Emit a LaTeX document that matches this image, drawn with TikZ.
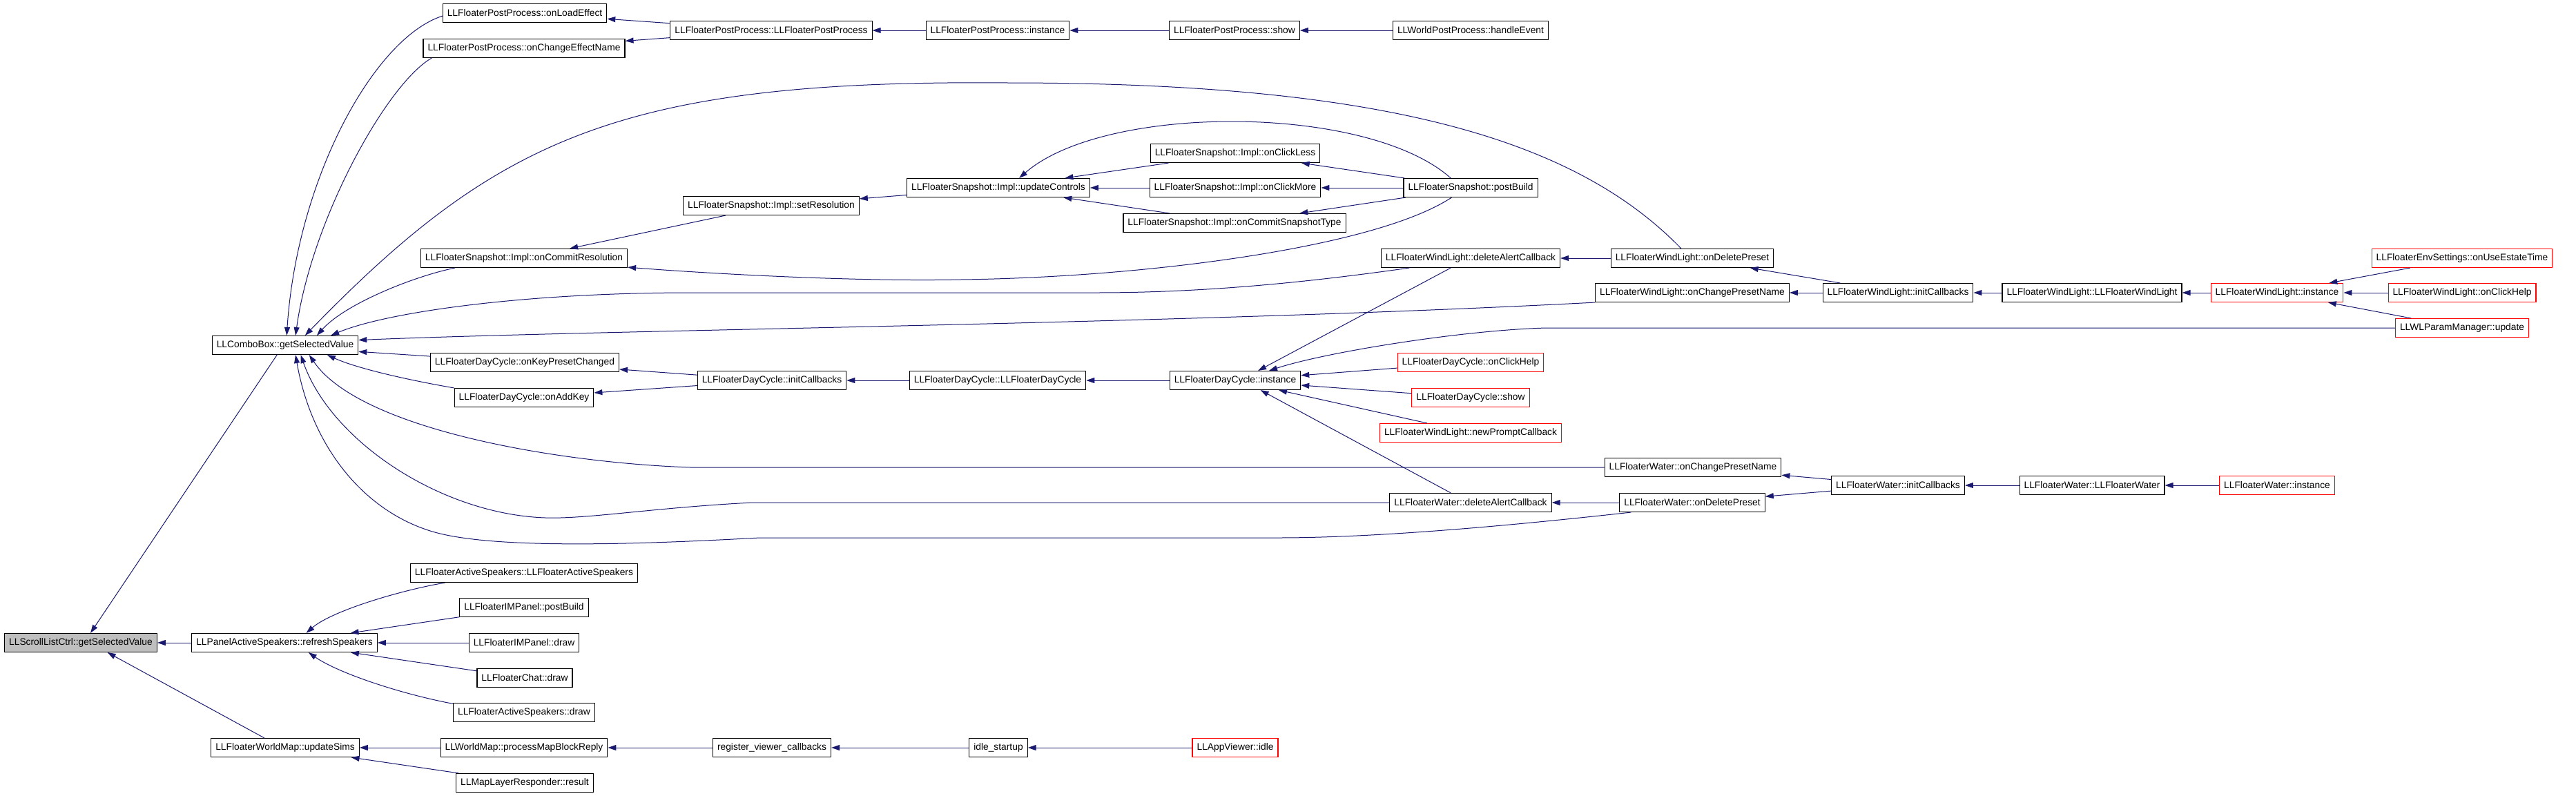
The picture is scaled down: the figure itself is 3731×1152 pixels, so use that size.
\documentclass[tikz,border=0pt]{standalone}
\usepackage{fontspec}
\setmainfont{Liberation Sans}
\usepackage{tikz}
\usetikzlibrary{arrows.meta}
\definecolor{edgeblue}{HTML}{191970}
\definecolor{selgray}{HTML}{BFBFBF}

\begin{document}
\begin{tikzpicture}[x=1pt, y=-1pt,
    fn/.style={draw=black, line width=1.1pt, fill=white, minimum height=27pt,
      inner xsep=6.5pt, inner ysep=0pt, font=\fontsize{13.8}{16}\selectfont},
    fnred/.style={fn, draw=red},
    fnsel/.style={fn, fill=selgray},
    calls/.style={draw=edgeblue, line width=1pt,
      -{Triangle[length=12pt,width=8pt]}}]
    \useasboundingbox (0,0) rectangle (3731,1152);

    % ROOT and first callers
    \node[fnsel] (scroll) at (117,931) {LLScrollListCtrl::getSelectedValue};
    \node[fn] (combo) at (413,500) {LLComboBox::getSelectedValue};
    \node[fn] (spk_ref) at (412,931) {LLPanelActiveSpeakers::refreshSpeakers};
    \node[fn] (map_sims) at (413,1083) {LLFloaterWorldMap::updateSims};

    % POST PROCESS
    \node[fn] (pp_load) at (760,19) {LLFloaterPostProcess::onLoadEffect};
    \node[fn] (pp_name) at (759,70) {LLFloaterPostProcess::onChangeEffectName};
    \node[fn] (pp_ctor) at (1117,44) {LLFloaterPostProcess::LLFloaterPostProcess};
    \node[fn] (pp_inst) at (1445,44) {LLFloaterPostProcess::instance};
    \node[fn] (pp_show) at (1788,44) {LLFloaterPostProcess::show};
    \node[fn] (wpp_evt) at (2130,44) {LLWorldPostProcess::handleEvent};

    % SNAPSHOT
    \node[fn] (ss_res) at (759,374) {LLFloaterSnapshot::Impl::onCommitResolution};
    \node[fn] (ss_setres) at (1117,298) {LLFloaterSnapshot::Impl::setResolution};
    \node[fn] (ss_upd) at (1446,272) {LLFloaterSnapshot::Impl::updateControls};
    \node[fn] (ss_less) at (1789,222) {LLFloaterSnapshot::Impl::onClickLess};
    \node[fn] (ss_more) at (1789,272) {LLFloaterSnapshot::Impl::onClickMore};
    \node[fn] (ss_type) at (1788,323) {LLFloaterSnapshot::Impl::onCommitSnapshotType};
    \node[fn] (ss_build) at (2130,272) {LLFloaterSnapshot::postBuild};

    % WINDLIGHT
    \node[fn] (wl_alert) at (2130,374) {LLFloaterWindLight::deleteAlertCallback};
    \node[fn] (wl_del) at (2451,374) {LLFloaterWindLight::onDeletePreset};
    \node[fn] (wl_name) at (2451,424) {LLFloaterWindLight::onChangePresetName};
    \node[fn] (wl_init) at (2749,424) {LLFloaterWindLight::initCallbacks};
    \node[fn] (wl_ctor) at (3030,424) {LLFloaterWindLight::LLFloaterWindLight};
    \node[fnred] (wl_inst) at (3298,424) {LLFloaterWindLight::instance};
    \node[fnred] (env_time) at (3566,374) {LLFloaterEnvSettings::onUseEstateTime};
    \node[fnred] (wl_help) at (3566,424) {LLFloaterWindLight::onClickHelp};
    \node[fnred] (wlp_upd) at (3566,475) {LLWLParamManager::update};

    % DAY CYCLE
    \node[fn] (dc_key) at (760,525) {LLFloaterDayCycle::onKeyPresetChanged};
    \node[fn] (dc_add) at (759,576) {LLFloaterDayCycle::onAddKey};
    \node[fn] (dc_init) at (1118,551) {LLFloaterDayCycle::initCallbacks};
    \node[fn] (dc_ctor) at (1445,551) {LLFloaterDayCycle::LLFloaterDayCycle};
    \node[fn] (dc_inst) at (1789,551) {LLFloaterDayCycle::instance};
    \node[fnred] (dc_help) at (2130,525) {LLFloaterDayCycle::onClickHelp};
    \node[fnred] (dc_show) at (2130,576) {LLFloaterDayCycle::show};
    \node[fnred] (wl_prompt) at (2130,627) {LLFloaterWindLight::newPromptCallback};

    % WATER
    \node[fn] (wt_name) at (2452,677) {LLFloaterWater::onChangePresetName};
    \node[fn] (wt_alert) at (2130,728) {LLFloaterWater::deleteAlertCallback};
    \node[fn] (wt_del) at (2451,728) {LLFloaterWater::onDeletePreset};
    \node[fn] (wt_init) at (2749,703) {LLFloaterWater::initCallbacks};
    \node[fn] (wt_ctor) at (3030,703) {LLFloaterWater::LLFloaterWater};
    \node[fnred] (wt_inst) at (3298,703) {LLFloaterWater::instance};

    % SPEAKERS and WORLD MAP
    \node[fn] (spk_ctor) at (759,830) {LLFloaterActiveSpeakers::LLFloaterActiveSpeakers};
    \node[fn] (im_build) at (759,880) {LLFloaterIMPanel::postBuild};
    \node[fn] (im_draw) at (759,931) {LLFloaterIMPanel::draw};
    \node[fn] (chat_draw) at (760,982) {LLFloaterChat::draw};
    \node[fn] (spk_draw) at (759,1032) {LLFloaterActiveSpeakers::draw};
    \node[fn] (map_reply) at (759,1083) {LLWorldMap::processMapBlockReply};
    \node[fn] (map_result) at (760,1134) {LLMapLayerResponder::result};
    \node[fn] (reg_cb) at (1118,1083) {register\_viewer\_callbacks};
    \node[fn] (idle_st) at (1446,1083) {idle\_startup};
    \node[fnred] (app_idle) at (1789,1083) {LLAppViewer::idle};

    % calls into the root
    \draw[calls] (combo.-130) -- (scroll.45);
    \draw[calls] (spk_ref) -- (scroll);
    \draw[calls] (map_sims.155) -- (scroll.-20);

    % calls into the combo box
    \draw[calls] (pp_load.182) .. controls +(-99,32) and +(15,-227) .. (combo.81);
    \draw[calls] (pp_name.186) .. controls +(-65,37) and +(23,-167) .. (combo.43);
    \draw[calls] (wl_del.139) .. controls (2280,200) and (2000,120) .. (1460,120)
        .. controls (900,115) and (720,200) .. (combo.26);
    \draw[calls] (ss_res.188) .. controls (600,400) and (500,440) .. (combo.17);
    \draw[calls] (wl_alert.189) .. controls (1900,408) and (1750,424) .. (1586,424)
        -- (1000,424) .. controls (760,424) and (560,452) .. (combo.12);
    \draw[calls] (wl_name.south west) .. controls (1700,470) and (900,477) .. (combo.4);
    \draw[calls] (dc_key) -- (combo.-5);
    \draw[calls] (dc_add.north west) .. controls (600,552) and (520,535) .. (combo.-13);
    \draw[calls] (wt_name.west) -- (1000,677) .. controls (800,670) and (520,620) .. (combo.-22);
    \draw[calls] (wt_alert.west) -- (1090,728) .. controls (950,735) and (850,752) .. (790,750)
        .. controls (640,745) and (480,640) .. (combo.-32);
    \draw[calls] (wt_del.189) .. controls (2200,760) and (2000,779) .. (1850,779)
        -- (1100,779) .. controls (900,790) and (700,795) .. (620,768)
        .. controls (520,735) and (450,640) .. (combo.-43);

    % post process chain
    \draw[calls] (pp_ctor) -- (pp_load);
    \draw[calls] (pp_ctor) -- (pp_name);
    \draw[calls] (pp_inst) -- (pp_ctor);
    \draw[calls] (pp_show) -- (pp_inst);
    \draw[calls] (wpp_evt) -- (pp_show);

    % snapshot chain
    \draw[calls] (ss_setres) -- (ss_res);
    \draw[calls] (ss_upd) -- (ss_setres);
    \draw[calls] (ss_less) -- (ss_upd);
    \draw[calls] (ss_more) -- (ss_upd);
    \draw[calls] (ss_type) -- (ss_upd);
    \draw[calls] (ss_build) -- (ss_less);
    \draw[calls] (ss_build) -- (ss_more);
    \draw[calls] (ss_build) -- (ss_type);
    \draw[calls] (ss_build.154) .. controls (1980,150) and (1600,150) .. (ss_upd.25);
    \draw[calls] (ss_build.207) .. controls (1990,360) and (1650,402) .. (1391,405)
        .. controls (1250,408) and (1050,398) .. (ss_res.-5);

    % windlight chain
    \draw[calls] (wl_del) -- (wl_alert);
    \draw[calls] (wl_init) -- (wl_del);
    \draw[calls] (wl_init) -- (wl_name);
    \draw[calls] (wl_ctor) -- (wl_init);
    \draw[calls] (wl_inst) -- (wl_ctor);
    \draw[calls] (env_time) -- (wl_inst);
    \draw[calls] (wl_help) -- (wl_inst);
    \draw[calls] (wlp_upd) -- (wl_inst);

    % day cycle chain
    \draw[calls] (dc_init) -- (dc_key);
    \draw[calls] (dc_init) -- (dc_add);
    \draw[calls] (dc_ctor) -- (dc_init);
    \draw[calls] (dc_inst) -- (dc_ctor);
    \draw[calls] (wl_alert.206) -- (dc_inst.23);
    \draw[calls] (wlp_upd.west) -- (2240,475) .. controls (2120,478) and (1920,510) .. (dc_inst.16);
    \draw[calls] (dc_help) -- (dc_inst);
    \draw[calls] (dc_show) -- (dc_inst);
    \draw[calls] (wl_prompt) -- (dc_inst);
    \draw[calls] (wt_alert.154) -- (dc_inst.-21);

    % water chain
    \draw[calls] (wt_init) -- (wt_name);
    \draw[calls] (wt_init) -- (wt_del);
    \draw[calls] (wt_del) -- (wt_alert);
    \draw[calls] (wt_ctor) -- (wt_init);
    \draw[calls] (wt_inst) -- (wt_ctor);

    % speakers
    \draw[calls] (spk_ctor.187) .. controls (580,855) and (480,885) .. (spk_ref.24);
    \draw[calls] (im_build) -- (spk_ref);
    \draw[calls] (im_draw) -- (spk_ref);
    \draw[calls] (chat_draw) -- (spk_ref);
    \draw[calls] (spk_draw.173) .. controls (580,1005) and (490,975) .. (spk_ref.-22);

    % world map
    \draw[calls] (map_reply) -- (map_sims);
    \draw[calls] (map_result) -- (map_sims);
    \draw[calls] (reg_cb) -- (map_reply);
    \draw[calls] (idle_st) -- (reg_cb);
    \draw[calls] (app_idle) -- (idle_st);
\end{tikzpicture}
\end{document}
